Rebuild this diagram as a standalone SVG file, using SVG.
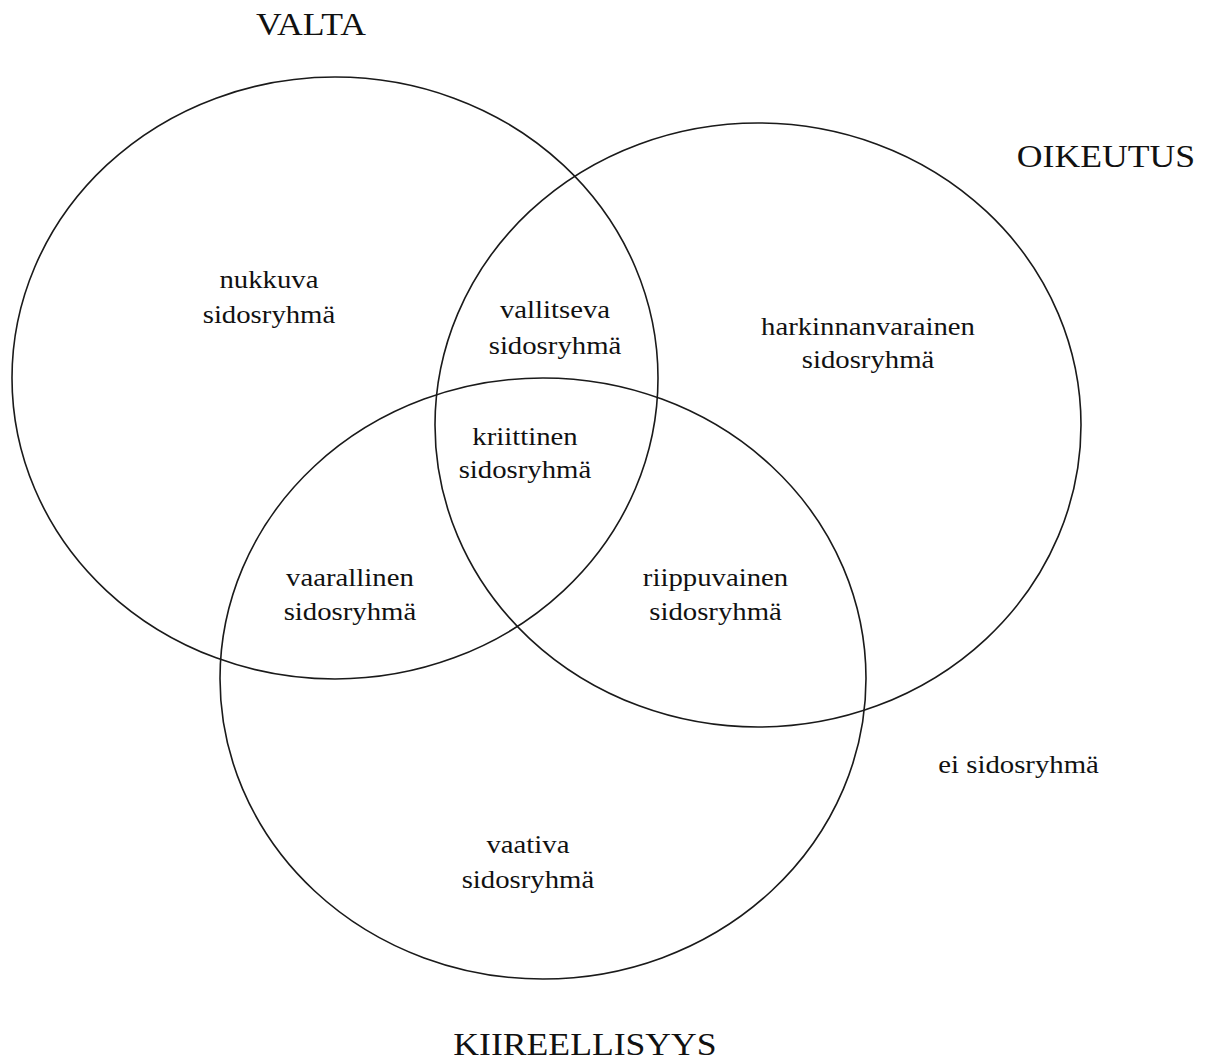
<svg xmlns="http://www.w3.org/2000/svg" width="1207" height="1061" viewBox="0 0 1207 1061">
<style>
.set{fill:none;stroke:#1a1a1a;stroke-width:1.6}
text{font-family:"Liberation Serif","Times New Roman",serif;fill:#111;text-anchor:middle}
.t{font-size:31px}
.l{font-size:25px}
</style>
<rect width="1207" height="1061" fill="#fff"/>
<g id="sets">
<ellipse id="valta" class="set" cx="335" cy="378" rx="323" ry="301"/>
<ellipse id="oikeutus" class="set" cx="758" cy="425" rx="323" ry="302"/>
<ellipse id="kiireellisyys" class="set" cx="543" cy="678.5" rx="323" ry="300.5"/>
</g>
<g transform="scale(1.15 1)">
<g id="titles">
<text class="t" x="270.4" y="35">VALTA</text>
<text class="t" x="961.7" y="167">OIKEUTUS</text>
<text class="t" x="508.7" y="1055">KIIREELLISYYS</text>
</g>
<g id="nukkuva"><text class="l" x="233.9" y="288">nukkuva</text><text class="l" x="233.9" y="323">sidosryhmä</text></g>
<g id="vallitseva"><text class="l" x="482.6" y="318">vallitseva</text><text class="l" x="482.6" y="354">sidosryhmä</text></g>
<g id="harkinnanvarainen"><text class="l" x="754.8" y="335">harkinnanvarainen</text><text class="l" x="754.8" y="368">sidosryhmä</text></g>
<g id="kriittinen"><text class="l" x="456.5" y="445">kriittinen</text><text class="l" x="456.5" y="478">sidosryhmä</text></g>
<g id="vaarallinen"><text class="l" x="304.3" y="586">vaarallinen</text><text class="l" x="304.3" y="620">sidosryhmä</text></g>
<g id="riippuvainen"><text class="l" x="622.2" y="586">riippuvainen</text><text class="l" x="622.2" y="620">sidosryhmä</text></g>
<g id="ei"><text class="l" x="885.7" y="773">ei sidosryhmä</text></g>
<g id="vaativa"><text class="l" x="459.1" y="853">vaativa</text><text class="l" x="459.1" y="888">sidosryhmä</text></g>
</g>
</svg>
